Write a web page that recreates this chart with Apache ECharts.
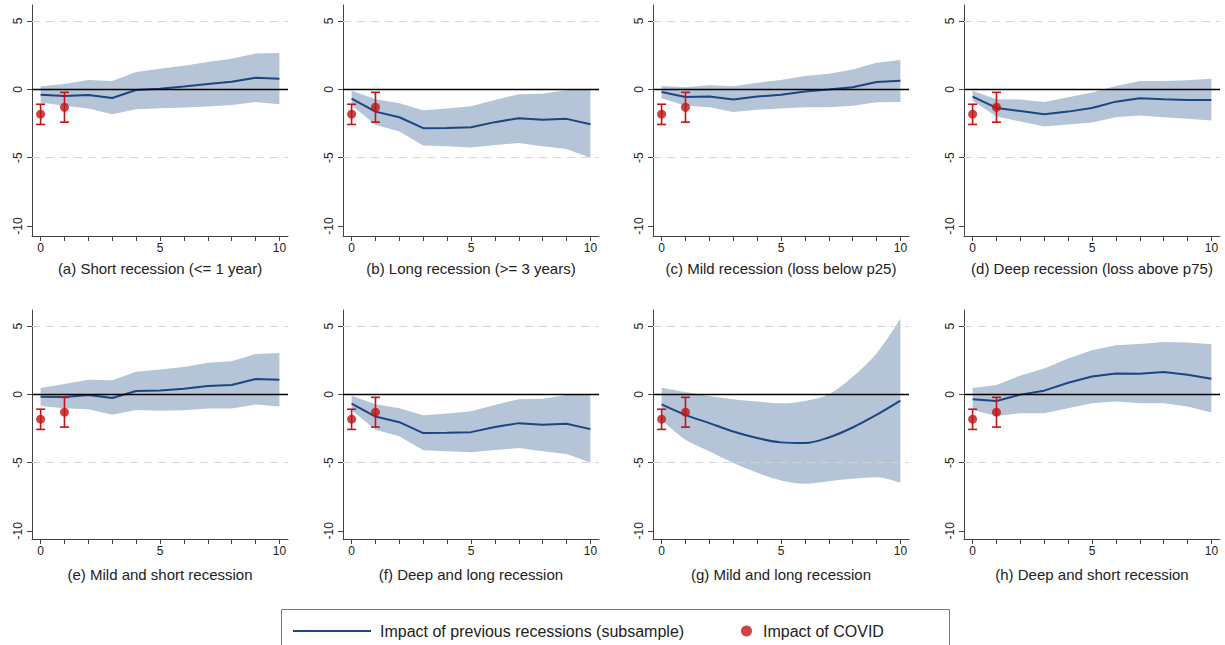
<!DOCTYPE html>
<html><head><meta charset="utf-8">
<script src="https://cdn.jsdelivr.net/npm/echarts@6/dist/echarts.min.js"></script>
<style>html,body{margin:0;padding:0;background:#fff}#chart{width:1225px;height:645px}</style>
</head><body><div id="chart"></div>
<script>
// ---------------- data ----------------
const horizons = [0,1,2,3,4,5,6,7,8,9,10];
const xTickValues = [0,1,2,3,4,5,6,7,8,9,10];
const xLabelValues = [0,5,10];
const yTickValues = [-10,-5,0,5];
const gridLevels = [5,-5];
const panelTitles = [
  '(a) Short recession (<= 1 year)',
  '(b) Long recession (>= 3 years)',
  '(c) Mild recession (loss below p25)',
  '(d) Deep recession (loss above p75)',
  '(e) Mild and short recession',
  '(f) Deep and long recession',
  '(g) Mild and long recession',
  '(h) Deep and short recession'
];
const meanA = [-0.39,-0.49,-0.41,-0.63,-0.05,0.05,0.20,0.39,0.56,0.85,0.78];
const highA = [0.22,0.39,0.68,0.61,1.26,1.50,1.72,2.00,2.23,2.62,2.65];
const lowA  = [-0.97,-1.20,-1.40,-1.82,-1.46,-1.38,-1.33,-1.26,-1.14,-0.92,-1.09];
const meanB = [-0.68,-1.63,-2.04,-2.84,-2.82,-2.77,-2.40,-2.11,-2.23,-2.16,-2.55];
const highB = [-0.10,-0.73,-1.02,-1.53,-1.41,-1.24,-0.78,-0.36,-0.32,-0.05,-0.05];
const lowB  = [-1.17,-2.60,-3.08,-4.10,-4.17,-4.25,-4.08,-3.93,-4.17,-4.37,-5.00];
const meanC = [-0.19,-0.56,-0.53,-0.75,-0.53,-0.39,-0.15,-0.02,0.15,0.53,0.63];
const highC = [0.24,0.15,0.29,0.22,0.49,0.68,0.97,1.14,1.46,1.94,2.14];
const lowC  = [-0.66,-1.21,-1.31,-1.65,-1.50,-1.41,-1.31,-1.31,-1.21,-0.95,-0.92];
const meanD = [-0.53,-1.36,-1.58,-1.82,-1.63,-1.36,-0.90,-0.66,-0.73,-0.78,-0.78];
const highD = [-0.10,-0.73,-0.75,-0.92,-0.58,-0.24,0.24,0.61,0.61,0.66,0.78];
const lowD  = [-0.83,-1.99,-2.35,-2.72,-2.57,-2.43,-2.04,-1.92,-2.04,-2.16,-2.28];
const meanE = [-0.17,-0.19,-0.05,-0.27,0.24,0.29,0.41,0.61,0.68,1.12,1.07];
const highE = [0.46,0.75,1.07,1.04,1.65,1.82,2.01,2.31,2.43,2.96,3.03];
const lowE  = [-0.85,-1.02,-1.09,-1.50,-1.14,-1.21,-1.17,-1.04,-1.04,-0.75,-0.90];
const meanF = [-0.68,-1.63,-2.04,-2.84,-2.82,-2.77,-2.40,-2.11,-2.23,-2.16,-2.55];
const highF = [-0.10,-0.73,-1.02,-1.53,-1.41,-1.24,-0.78,-0.36,-0.32,-0.05,-0.05];
const lowF  = [-1.17,-2.60,-3.08,-4.10,-4.17,-4.25,-4.08,-3.93,-4.17,-4.37,-5.00];
const meanG = [-0.73,-1.50,-2.11,-2.72,-3.20,-3.52,-3.57,-3.16,-2.43,-1.50,-0.46];
const highG = [0.49,0.17,-0.12,-0.36,-0.53,-0.66,-0.49,0.00,1.29,2.99,5.53];
const lowG  = [-1.87,-3.33,-4.17,-5.02,-5.75,-6.31,-6.55,-6.36,-6.19,-6.07,-6.48];
const meanH = [-0.36,-0.49,-0.02,0.27,0.85,1.31,1.53,1.50,1.63,1.43,1.14];
const highH = [0.46,0.68,1.38,1.89,2.62,3.23,3.59,3.69,3.83,3.79,3.67];
const lowH  = [-1.14,-1.58,-1.38,-1.38,-1.02,-0.66,-0.53,-0.66,-0.66,-0.90,-1.33];
const covidX    = [0, 1];
const covidMean = [-1.82, -1.31];
const covidLow  = [-2.57, -2.40];
const covidHigh = [-1.09, -0.22];
const legendLine = 'Impact of previous recessions (subsample)';
const legendCovid = 'Impact of COVID';

// ---------------- layout / style ----------------
const FONT = '"Liberation Sans", Arial, Helvetica, sans-serif';
const NAVY = '#1b4680', BAND = '#b5c4d7', RED = '#c41414', AXIS = '#444';
const panelLefts = [32, 343, 653, 964];
const rowTops = [5, 310], rowHeights = [231, 229];
const rowYMin = [-10.73, -10.6], rowYMax = [6.17, 6.18];
const rowNameGap = [25, 28];
const panelW = 256;

const panels = [
  [meanA, lowA, highA], [meanB, lowB, highB], [meanC, lowC, highC], [meanD, lowD, highD],
  [meanE, lowE, highE], [meanF, lowF, highF], [meanG, lowG, highG], [meanH, lowH, highH]
];

const grids = [], xAxes = [], yAxes = [], series = [];
panels.forEach((p, i) => {
  const row = Math.floor(i / 4), col = i % 4;
  const [mean, low, high] = p;
  const smooth = (i === 6) ? 0.35 : false;
  grids.push({left: panelLefts[col], top: rowTops[row], width: panelW, height: rowHeights[row],
              containLabel: false, outerBoundsMode: 'none'});
  xAxes.push({
    gridIndex: i, type: 'value', min: -0.36, max: 10.36,
    name: panelTitles[i], nameLocation: 'middle', nameGap: rowNameGap[row],
    nameTextStyle: {fontSize: 15, color: '#222', fontFamily: FONT},
    axisLine: {show: true, onZero: false, lineStyle: {color: AXIS, width: 1}},
    axisTick: {show: true, customValues: xTickValues, length: 5, lineStyle: {color: AXIS}},
    axisLabel: {customValues: xLabelValues, fontSize: 12, color: '#222', margin: 6, fontFamily: FONT},
    splitLine: {show: false}
  });
  yAxes.push({
    gridIndex: i, type: 'value', min: rowYMin[row], max: rowYMax[row],
    axisLine: {show: true, onZero: false, lineStyle: {color: AXIS, width: 1}},
    axisTick: {show: true, customValues: yTickValues, length: 5, lineStyle: {color: AXIS}},
    axisLabel: {customValues: yTickValues, rotate: 90, fontSize: 12, color: '#222', margin: 8, fontFamily: FONT},
    splitLine: {show: false}
  });
  // lower bound (invisible), carries dashed grid lines.  Data as [y, x] so the stack acts on y.
  series.push({
    type: 'line', xAxisIndex: i, yAxisIndex: i, stack: 'band' + i, stackStrategy: 'all',
    data: horizons.map((h, j) => [low[j], h]), encode: {x: 1, y: 0},
    symbol: 'none', smooth: smooth,
    lineStyle: {opacity: 0}, silent: true, z: 1,
    markLine: {silent: true, symbol: 'none', label: {show: false}, animation: false,
      lineStyle: {color: '#d6d6d6', type: [8, 6], width: 1},
      data: gridLevels.map(v => ({yAxis: v}))}
  });
  // band thickness stacked on lower bound
  series.push({
    type: 'line', xAxisIndex: i, yAxisIndex: i, stack: 'band' + i, stackStrategy: 'all',
    data: horizons.map((h, j) => [high[j] - low[j], h]), encode: {x: 1, y: 0},
    symbol: 'none', smooth: smooth,
    lineStyle: {opacity: 0}, areaStyle: {color: BAND, opacity: 1}, silent: true, z: 2,
    markLine: {silent: true, symbol: 'none', label: {show: false}, animation: false,
      lineStyle: {color: '#000', type: 'solid', width: 1.3},
      data: [{yAxis: 0}]}
  });
  // mean response
  series.push({
    name: legendLine, type: 'line', xAxisIndex: i, yAxisIndex: i, color: NAVY,
    data: horizons.map((h, j) => [h, mean[j]]), symbol: 'none', smooth: smooth,
    lineStyle: {color: NAVY, width: 2}, z: 3
  });
  // COVID error bars
  series.push({
    type: 'custom', xAxisIndex: i, yAxisIndex: i, z: 4, silent: true,
    data: covidX.map((x, j) => [x, covidLow[j], covidHigh[j]]),
    encode: {x: 0, y: [1, 2]},
    renderItem: function (params, api) {
      const x = api.value(0);
      const a = api.coord([x, api.value(1)]);
      const b = api.coord([x, api.value(2)]);
      const c = 4.5;
      const st = {stroke: RED, lineWidth: 1.6};
      return {type: 'group', children: [
        {type: 'line', shape: {x1: a[0], y1: a[1], x2: b[0], y2: b[1]}, style: st},
        {type: 'line', shape: {x1: a[0] - c, y1: a[1], x2: a[0] + c, y2: a[1]}, style: st},
        {type: 'line', shape: {x1: b[0] - c, y1: b[1], x2: b[0] + c, y2: b[1]}, style: st}
      ]};
    }
  });
  // COVID point estimates
  series.push({
    name: legendCovid, type: 'scatter', xAxisIndex: i, yAxisIndex: i, color: RED,
    data: covidX.map((x, j) => [x, covidMean[j]]), symbol: 'circle', symbolSize: 9,
    itemStyle: {color: RED}, z: 5
  });
});

const chart = echarts.init(document.getElementById('chart'), null, {renderer: 'svg'});
chart.setOption({
  animation: false,
  backgroundColor: '#fff',
  textStyle: {fontFamily: FONT},
  grid: grids, xAxis: xAxes, yAxis: yAxes, series: series,
  legend: [
    {data: [{name: legendLine, icon: 'rect'}], left: 288, top: 618, itemWidth: 78, itemHeight: 2,
     selectedMode: false, textStyle: {fontSize: 16, color: '#222', fontFamily: FONT, padding: [0, 0, 0, 4]}},
    {data: [{name: legendCovid, icon: 'circle'}], left: 736, top: 618, itemWidth: 11, itemHeight: 11,
     selectedMode: false, textStyle: {fontSize: 16, color: '#222', fontFamily: FONT, padding: [0, 0, 0, 6]}}
  ],
  graphic: [{type: 'rect', left: 279, top: 607, silent: true,
             shape: {width: 668, height: 36}, style: {fill: 'none', stroke: '#7a7a7a', lineWidth: 1}}]
});
</script></body></html>
